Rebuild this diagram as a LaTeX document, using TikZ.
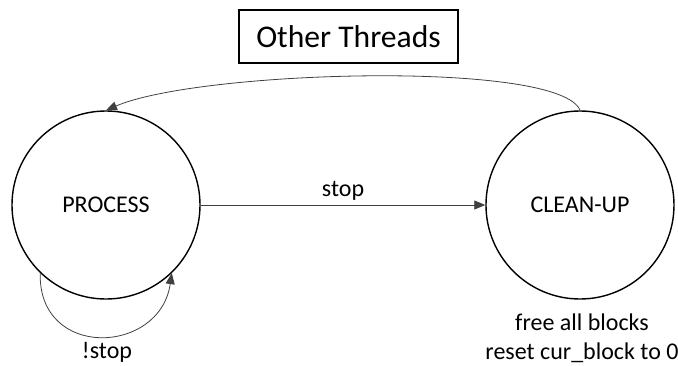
\documentclass[tikz,border=0pt]{standalone}
\usepackage{fontspec}
\setmainfont{Carlito}
\usetikzlibrary{arrows.meta}
\begin{document}
\begin{tikzpicture}[x=1pt,y=-1pt,
  state/.style={circle,draw,line width=1.4pt,minimum size=188pt,inner sep=0pt,
    font=\fontsize{24}{28}\selectfont},
  titlebox/.style={draw,line width=1.2pt,minimum width=219pt,minimum height=53pt,
    font=\fontsize{31.6}{36}\selectfont},
  lbl/.style={font=\fontsize{24}{29}\selectfont,align=center},
  conn/.style={line width=0.8pt,draw=black!75,-{Triangle[length=11pt,width=9pt]}}]
\useasboundingbox (0,0) rectangle (678,365);

% states
\node[state] (proc) at (106,205) {PROCESS};
\node[state] (clean) at (580,205) {CLEAN-UP};
\node[titlebox] (other) at (348.5,36.5) {Other Threads};

% transitions
\draw[conn] (proc.east) -- node[lbl,above,yshift=1pt] (stoplbl) {stop} (clean.west);
\draw[conn] (clean.north) .. controls (560,60) and (200,70) .. (proc.north);
\draw[conn] (proc.-134) .. controls (38,360) and (160,355) .. (proc.-46);

% labels
\node[lbl] (loop) at (107,352) {!stop};
\node[lbl,anchor=north] (act) at (582,310) {free all blocks\\reset cur\_block to 0};
\end{tikzpicture}
\end{document}
